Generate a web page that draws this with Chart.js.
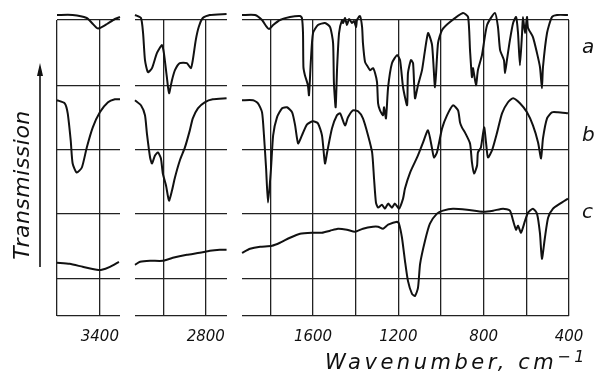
<!DOCTYPE html>
<html>
<head>
<meta charset="utf-8">
<script src="https://cdn.jsdelivr.net/npm/chart.js@4.4.0/dist/chart.umd.min.js"></script>
<style>
  body { margin: 0; background: #fff; }
  #wrap { position: relative; width: 598px; height: 375px; overflow: hidden; font-family: 'DejaVu Sans', sans-serif; color: #111; }
  canvas { position: absolute; left: 0; top: 0; }
  .lbl { position: absolute; font-style: italic; white-space: nowrap; }
  .curve { font-size: 20px; line-height: 20px; }
</style>
</head>
<body>
<div id="wrap">
  <canvas id="p1" width="598" height="375"></canvas>
  <canvas id="p2" width="598" height="375"></canvas>
  <canvas id="p3" width="598" height="375"></canvas>

  <svg style="position:absolute;left:0;top:0" width="598" height="375">
    <line x1="40" y1="267" x2="40" y2="72" stroke="#111" stroke-width="1.6"/>
    <polygon points="40,63 37,76 43,76" fill="#111"/>
  </svg>
  <div class="lbl" style="left:-78px;top:173px;width:200px;text-align:center;font-size:22px;line-height:24px;letter-spacing:0.5px;transform:rotate(-90deg)">Transmission</div>
  <div class="lbl" style="left:325px;top:345px;font-size:21px;line-height:24px;letter-spacing:3.5px">Wavenumber, cm<sup style="font-size:16px;vertical-align:7px">−1</sup></div>
  <div class="lbl curve" style="left:582px;top:36px">a</div>
  <div class="lbl curve" style="left:582px;top:124px">b</div>
  <div class="lbl curve" style="left:582px;top:201px">c</div>
</div>

<script>
// IR spectra a, b, c (transmission in arbitrary units, curves offset vertically)
// each point: [wavenumber cm-1, transmission]

// panel 1: 3600 - 3300
const specA1 = [[3600,300],[3527,300],[3461,297],[3437,292],[3414,287],[3400,287],[3367,291],[3330,296],[3306,298]]
const specB1 = [[3600,215],[3564,212],[3550,202],[3536,175],[3527,152],[3508,143],[3484,148],[3461,168],[3433,188],[3400,203],[3362,213],[3330,216],[3306,216]]
const specC1 = [[3600,53],[3541,52],[3480,49],[3414,46],[3391,46],[3353,49],[3311,54]]

// panel 2: 3130 - 2700
const specA2 = [[3133,300],[3105,297],[3095,282],[3086,255],[3072,243],[3053,247],[3030,262],[3006,270],[2997,262],[2983,238],[2973,222],[2959,235],[2945,245],[2922,252],[2889,252],[2870,247],[2861,255],[2847,275],[2833,288],[2814,297],[2781,300],[2702,301]]
const specB2 = [[3133,215],[3105,210],[3086,200],[3077,182],[3062,158],[3053,152],[3039,160],[3025,163],[3011,157],[3002,142],[2987,130],[2973,115],[2959,125],[2945,138],[2922,155],[2898,168],[2875,185],[2861,197],[2837,207],[2805,213],[2767,216],[2702,217]]
const specC2 = [[3133,51],[3109,54],[3062,55],[3002,55],[2955,58],[2889,61],[2828,63],[2781,65],[2734,66],[2702,66]]

// panel 3: 1930 - 400
const specA3 = [[1933,300],[1872,300],[1839,295],[1820,289],[1806,286],[1787,290],[1755,295],[1708,298],[1661,299],[1652,297],[1647,282],[1645,248],[1638,240],[1624,230],[1619,220],[1610,255],[1600,282],[1577,290],[1544,292],[1520,288],[1506,272],[1502,232],[1494,208],[1487,248],[1478,282],[1464,295],[1459,292],[1450,297],[1441,290],[1431,296],[1417,292],[1408,294],[1398,288],[1394,295],[1380,299],[1370,288],[1366,272],[1356,253],[1342,248],[1333,245],[1319,247],[1309,242],[1300,233],[1295,212],[1286,205],[1272,200],[1267,208],[1258,197],[1248,228],[1230,252],[1206,260],[1192,255],[1178,228],[1159,210],[1155,242],[1141,255],[1131,252],[1122,217],[1108,230],[1089,245],[1061,282],[1042,270],[1028,228],[1014,272],[995,285],[958,293],[897,302],[873,298],[864,265],[855,238],[850,247],[836,230],[827,245],[808,260],[784,290],[747,302],[733,288],[723,265],[705,255],[700,242],[691,255],[677,275],[662,292],[648,298],[639,282],[630,250],[620,282],[616,298],[606,282],[597,298],[592,287],[569,278],[550,262],[536,248],[527,227],[522,248],[503,282],[480,298],[456,300],[405,300]]
const specB3 = [[1933,215],[1881,215],[1858,212],[1839,203],[1830,180],[1820,147],[1811,113],[1797,147],[1787,180],[1769,198],[1745,207],[1722,208],[1698,203],[1684,190],[1670,172],[1652,180],[1628,191],[1600,194],[1577,192],[1558,180],[1544,152],[1534,163],[1511,187],[1488,200],[1473,202],[1450,190],[1436,198],[1413,205],[1389,204],[1366,197],[1342,180],[1323,163],[1314,137],[1305,113],[1295,108],[1277,111],[1263,107],[1248,112],[1230,108],[1216,112],[1197,107],[1178,117],[1169,127],[1145,143],[1108,160],[1084,173],[1061,185],[1042,167],[1033,158],[1019,163],[995,187],[972,200],[944,210],[920,205],[911,193],[902,188],[888,183],[864,172],[855,153],[845,142],[831,150],[827,163],[813,168],[798,188],[789,173],[780,158],[761,165],[737,183],[714,202],[686,213],[662,217],[630,212],[597,203],[569,190],[545,173],[531,157],[522,177],[503,197],[480,203],[452,203],[405,202]]
const specC3 = [[1933,63],[1895,67],[1848,69],[1792,70],[1755,73],[1708,78],[1661,82],[1605,83],[1558,83],[1520,85],[1483,87],[1441,86],[1403,84],[1366,87],[1319,89],[1295,89],[1272,87],[1248,91],[1206,94],[1197,92],[1183,78],[1169,55],[1155,35],[1136,22],[1122,20],[1108,28],[1098,52],[1075,75],[1052,92],[1019,102],[991,105],[944,107],[878,106],[803,104],[756,105],[709,107],[677,105],[662,95],[648,86],[639,90],[625,83],[606,95],[592,103],[569,107],[550,102],[536,82],[527,57],[513,78],[498,98],[475,107],[442,112],[405,117]]

// grid / tick values
const xGrid = [3600, 3400, 3000, 2800, 1800, 1600, 1400, 1200, 1000, 800, 600, 400]
const xLabels = [3400, 2800, 1600, 1200, 800, 400]
const yGrid = [0, 37, 102, 166, 230, 295]

function makePanel(id, wnMin, wnMax, left, right, specs) {
  return new Chart(document.getElementById(id), {
    type: 'line',
    data: {
      datasets: specs.map(s => ({
        data: s.map(p => ({ x: p[0], y: p[1] })),
        borderColor: '#111',
        borderWidth: 2,
        pointRadius: 0,
        tension: 0.2,
        clip: false
      }))
    },
    options: {
      responsive: false,
      animation: false,
      events: [],
      devicePixelRatio: 1,
      layout: { padding: { left: left, right: 598 - right, top: 20, bottom: 17 } },
      plugins: { legend: { display: false }, tooltip: { enabled: false } },
      scales: {
        x: {
          type: 'linear',
          reverse: true,
          min: wnMin,
          max: wnMax,
          afterBuildTicks: s => { s.ticks = xGrid.filter(v => v >= wnMin && v <= wnMax).map(v => ({ value: v })) },
          grid: { color: '#222', lineWidth: 1.3, drawTicks: false },
          border: { display: false },
          ticks: {
            autoSkip: false,
            maxRotation: 0,
            padding: 12,
            color: '#111',
            font: { family: 'DejaVu Sans', size: 15, style: 'italic' },
            callback: v => xLabels.includes(v) ? String(v) : ''
          }
        },
        y: {
          min: 0,
          max: 295,
          afterBuildTicks: s => { s.ticks = yGrid.map(v => ({ value: v })) },
          grid: { color: '#222', lineWidth: 1.3, drawTicks: false },
          border: { display: false },
          ticks: { display: false }
        }
      }
    }
  })
}

makePanel('p1', 3306, 3600, 57, 120, [specA1, specB1, specC1])
makePanel('p2', 2700, 3133, 135, 227, [specA2, specB2, specC2])
makePanel('p3', 400, 1933, 242, 569, [specA3, specB3, specC3])
</script>
</body>
</html>
